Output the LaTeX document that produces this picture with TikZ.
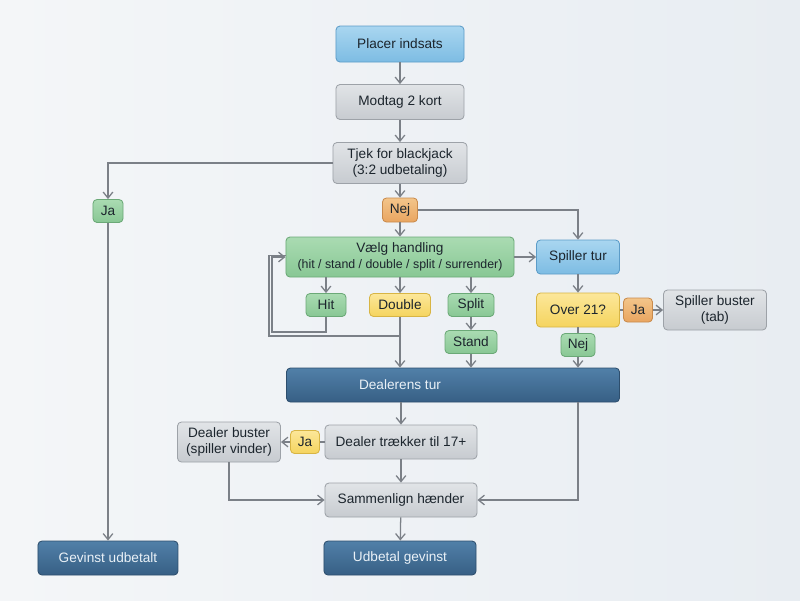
\documentclass[tikz,border=0pt]{standalone}
\usepackage{fontspec}
\setmainfont{Liberation Sans}
\usepackage{xcolor}
\usetikzlibrary{arrows.meta}

\definecolor{bgl}{HTML}{F4F6F8}
\definecolor{bgr}{HTML}{E8EDF2}
\definecolor{linegray}{HTML}{7B8087}
\definecolor{txt}{HTML}{1C252D}
\definecolor{bluetop}{HTML}{A9D6F0}
\definecolor{bluebot}{HTML}{7DBCE3}
\definecolor{blueline}{HTML}{5C9CC8}
\definecolor{graytop}{HTML}{E1E4E7}
\definecolor{graybot}{HTML}{C7CBD0}
\definecolor{grayline}{HTML}{9DA2A8}
\definecolor{greentop}{HTML}{AADBB2}
\definecolor{greenbot}{HTML}{88C794}
\definecolor{greenline}{HTML}{6BA977}
\definecolor{yellowtop}{HTML}{FCE79A}
\definecolor{yellowbot}{HTML}{F5D45E}
\definecolor{yellowline}{HTML}{D8B544}
\definecolor{orangetop}{HTML}{F3C58A}
\definecolor{orangebot}{HTML}{E9A560}
\definecolor{orangeline}{HTML}{C98B4D}
\definecolor{darktop}{HTML}{5180A8}
\definecolor{darkbot}{HTML}{375F85}
\definecolor{darkline}{HTML}{2D4E6D}
\definecolor{darktxt}{HTML}{EAF1F7}

\tikzstyle{box} = [rectangle, rounded corners=1mm, inner sep=0pt, align=center,
  text=txt, font=\fontsize{9.7}{11.2}\selectfont, line width=0.6pt]
\tikzstyle{arrow} = [draw=linegray, line width=0.9pt, -{Straight Barb[length=1.5mm,width=2.4mm]}]
\tikzstyle{line} = [draw=linegray, line width=0.9pt]

\begin{document}
\begin{tikzpicture}[
        x=0.025cm, y=-0.025cm,
        blue/.style={box, draw=blueline, top color=bluetop, bottom color=bluebot},
        gray/.style={box, draw=grayline, top color=graytop, bottom color=graybot},
        green/.style={box, draw=greenline, top color=greentop, bottom color=greenbot},
        yellow/.style={box, draw=yellowline, top color=yellowtop, bottom color=yellowbot},
        orange/.style={box, draw=orangeline, top color=orangetop, bottom color=orangebot},
        dark/.style={box, draw=darkline, top color=darktop, bottom color=darkbot, text=darktxt},
    ]
        % background
        \shade[left color=bgl, right color=bgr] (0,0) rectangle (800,600);

        % main column
        \node[blue, minimum width=3.2cm, minimum height=0.9cm] (placer) at (400,44) {Placer indsats};
        \node[gray, minimum width=3.2cm, minimum height=0.875cm] (modtag) at (400,102) {Modtag 2 kort};
        \node[gray, minimum width=3.35cm, minimum height=1.025cm] (tjek) at (400,163) {Tjek for blackjack\\(3:2 udbetaling)};
        \node[green, minimum width=0.75cm, minimum height=0.575cm] (jaA) at (108,211) {Ja};
        \node[orange, minimum width=0.875cm, minimum height=0.6cm] (nejA) at (400,210) {Nej};
        \node[green, minimum width=5.7cm, minimum height=1cm] (valg) at (400,257) {V\ae lg handling\\{\fontsize{8.8}{10}\selectfont (hit / stand / double / split / surrender)}};
        \node[blue, minimum width=2.075cm, minimum height=0.85cm] (spiller) at (578,257) {Spiller tur};

        % actions
        \node[green, minimum width=1cm, minimum height=0.575cm] (hit) at (326,305) {Hit};
        \node[yellow, minimum width=1.525cm, minimum height=0.575cm] (double) at (400,305) {Double};
        \node[green, minimum width=1.15cm, minimum height=0.575cm] (split) at (471,305) {Split};
        \node[green, minimum width=1.3cm, minimum height=0.575cm] (stand) at (471,342) {Stand};
        \node[yellow, minimum width=2.075cm, minimum height=0.85cm] (over) at (578,310) {Over 21?};
        \node[orange, minimum width=0.725cm, minimum height=0.6cm] (jaB) at (638,310) {Ja};
        \node[gray, minimum width=2.575cm, minimum height=1cm] (buster) at (715,310) {Spiller buster\\(tab)};
        \node[green, minimum width=0.85cm, minimum height=0.575cm] (nejB) at (578,345) {Nej};

        % dealer
        \node[dark, minimum width=8.325cm, minimum height=0.85cm] (dealer) at (453,385) {Dealerens tur\hspace*{2.65cm}};
        \node[gray, minimum width=3.8cm, minimum height=0.85cm] (traek) at (401,442) {Dealer tr\ae kker til 17+};
        \node[yellow, minimum width=0.725cm, minimum height=0.575cm] (jaC) at (305,442) {Ja};
        \node[gray, minimum width=2.575cm, minimum height=1cm] (dbust) at (229,442) {Dealer buster\\(spiller vinder)};
        \node[gray, minimum width=3.8cm, minimum height=0.85cm] (sammen) at (401,500) {Sammenlign h\ae nder};
        \node[dark, minimum width=3.8cm, minimum height=0.85cm] (udbetal) at (400,558) {Udbetal gevinst};
        \node[dark, minimum width=3.5cm, minimum height=0.85cm] (gevinst) at (108,558) {Gevinst udbetalt};

        \coordinate (loopA) at (272,332);
        \coordinate (loopB) at (269,336);

        % connectors
        \draw[arrow] (placer) -- (modtag);
        \draw[arrow] (modtag) -- (tjek);
        \draw[arrow] (tjek.west) -| (jaA.north);
        \draw[arrow] (tjek) -- (nejA);
        \draw[arrow] (nejA) -- (valg);
        \draw[arrow] (nejA.east) -| (spiller.north);
        \draw[arrow] (valg) -- (spiller);
        \draw[arrow] (valg.south -| hit) -- (hit);
        \draw[arrow] (valg) -- (double);
        \draw[arrow] (valg.south -| split) -- (split);
        \draw[arrow] (split) -- (stand);
        \draw[arrow] (hit.south) |- (loopA) |- (valg.west);
        \draw[line] (loopB -| double) -- (loopB) |- ([yshift=1pt]valg.west);
        \draw[arrow] (double.south) -- (double.south |- dealer.north);
        \draw[arrow] (stand.south) -- (stand.south |- dealer.north);
        \draw[arrow] (spiller) -- (over);
        \draw[line] (over) -- (jaB);
        \draw[arrow] (jaB) -- (buster);
        \draw[line] (over) -- (nejB);
        \draw[arrow] (nejB.south) -- (nejB.south |- dealer.north);
        \draw[arrow] (traek.north |- dealer.south) -- (traek.north);
        \draw[arrow] (dealer.south -| nejB) |- (sammen.east);
        \draw[line] (traek) -- (jaC);
        \draw[arrow] (jaC) -- (dbust);
        \draw[arrow] (dbust.south) |- (sammen.west);
        \draw[arrow] (traek) -- (sammen);
        \draw[arrow] (sammen) -- (udbetal);
        \draw[arrow] (jaA) -- (gevinst);
    \end{tikzpicture}
\end{document}
